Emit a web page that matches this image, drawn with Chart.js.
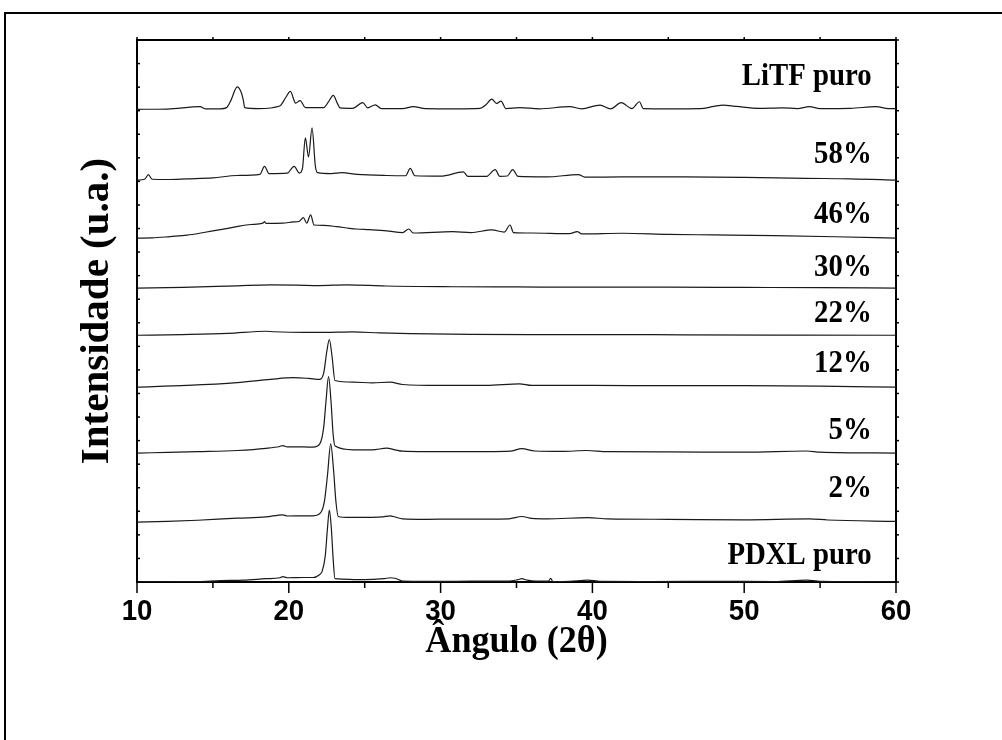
<!DOCTYPE html>
<html>
<head>
<meta charset="utf-8">
<script src="https://cdn.jsdelivr.net/npm/chart.js@4.4.0/dist/chart.umd.min.js"></script>
<style>
  html, body { margin: 0; padding: 0; background: #fff; }
  canvas { display: block; }
</style>
</head>
<body>
<canvas id="xrd" width="1002" height="740"></canvas>
<script>
// sample names, top to bottom of the stack
const samples = ['LiTF puro', '58%', '46%', '30%', '22%', '12%', '5%', '2%', 'PDXL puro'];
// vertical shift of each pattern (u.a.)
const offsets = [2006, 1705, 1459, 1247, 1047, 827, 547, 254, 0];

// [2theta, intensity above its shift]
const litf = [[10,0],[12,1],[14.15,11],[14.5,2],[15.5,2],[15.9,7],[16.2,40],[16.6,95],[16.85,74],[17.0,40],[17.1,7],
  [18,3],[19.4,14],[19.8,50],[20.1,76],[20.45,26],[20.74,37],[21.1,7],[22.3,7],[22.6,30],[22.93,59],[23.2,25],
  [23.37,6],[24.2,4],[24.87,28],[25.2,6],[25.7,19],[26.1,3],[27.5,3],[28.2,11],[29,3],[31,2],[32.6,4],[33.0,20],
  [33.37,43],[33.7,25],[33.98,35],[34.3,3],[35.2,7],[36.5,2],[38.5,11],[39.3,2],[40.5,18],[41.2,2],[41.9,28],
  [42.6,3],[43.1,32],[43.35,3],[45,2],[47.1,3],[48.0,12],[48.6,18],[49.5,12],[51,4],[52.5,6],[53.5,3],[54.3,11],
  [55,3],[57,4],[58.7,11],[59.5,3],[60,3]];
const p58 = [[10,0],[10.5,4],[10.75,24],[11.0,4],[12,3],[13.3,6],[15,10],[16.6,20],[18.1,25],[18.4,59],[18.7,28],
  [19.9,30],[20.35,59],[20.7,30],[20.9,50],[21.09,180],[21.3,99],[21.53,222],[21.75,60],[21.9,32],[22.8,28],
  [23.5,32],[24.5,25],[26.45,20],[27.7,19],[28.0,50],[28.3,19],[30,17],[31.5,35],[31.8,16],[33.0,16],[33.6,45],
  [33.9,16],[34.4,18],[34.75,45],[35.1,16],[37,14],[39.07,24],[39.5,13],[42,14],[46,14],[50,12],[54,8],[57,6],[60,0]];
const p46 = [[10,0],[11,1],[12.2,7],[13.3,13],[14.4,24],[15.5,36],[16.57,49],[17.5,58],[18.3,64],[18.4,70],[18.5,63],
  [19.6,64],[20.3,69],[20.7,72],[20.96,87],[21.18,64],[21.44,99],[21.66,56],[22.3,54],[23.15,49],[24.0,42],
  [24.47,39],[25.3,36],[26.45,31],[27.5,24],[27.9,39],[28.2,22],[30.8,28],[32.0,24],[33.37,35],[34.2,26],
  [34.57,56],[34.8,24],[36.0,22],[38.5,19],[39.0,28],[39.3,18],[42,21],[45,16],[48,14],[52,11],[56,6],[60,0]];
const p30 = [[10,0],[13,3],[16.6,10],[18.8,14],[20.5,13],[22,11],[23.8,14],[26.4,9],[30.8,6],[35,5],[40,4],[45,4],
  [50,3],[55,2],[60,0]];
const p22 = [[10,0],[13,3],[16,8],[18.5,17],[19,15],[21,12],[22.3,12],[24.2,14],[26,10],[28,7],[32,4],[36,3],[40,3],
  [46,2],[52,1],[60,0]];
const p12 = [[10,0],[13.3,7],[16.6,19],[18.8,33],[20.3,40],[21.3,37],[22.05,33],[22.3,60],[22.5,150],[22.67,202],
  [22.85,130],[23.04,28],[24.25,21],[25.5,18],[26.67,21],[27.5,11],[30,7],[33,7],[35.2,14],[36,7],[40,7],[45,6],
  [50,6],[55,4],[60,0]];
const p05 = [[10,0],[12,3],[14,6],[16.6,11],[18.5,20],[19.4,28],[19.6,32],[19.9,26],[21,26],[21.6,25],[22.05,40],
  [22.3,110],[22.45,220],[22.62,325],[22.78,220],[22.92,80],[23.05,30],[24.25,14],[25.5,14],[26.45,21],[27.0,14],
  [27.5,8],[29,6],[31,6],[33,6],[34.6,8],[35.35,19],[36.2,9],[38,7],[39.6,11],[41,6],[45,5],[50,4],[54.1,9],
  [55,4],[60,0]];
const p02 = [[10,0],[12,3],[14,8],[16.6,17],[18.5,22],[19.6,31],[19.9,26],[21,27],[21.6,27],[22.1,40],[22.35,90],
  [22.55,200],[22.76,332],[22.95,220],[23.1,90],[23.26,24],[24,20],[25.5,20],[26.2,22],[26.67,27],[27.0,22],
  [27.5,14],[29,12],[31,13],[33,13],[34.5,14],[35.35,24],[36,16],[37,14],[39.7,19],[41,14],[45,12],[50,10],
  [54.3,14],[55.5,9],[60,3]];
const pdxl = [[10,0],[12,1],[14,2],[15.5,6],[17,8],[18.5,14],[19.4,18],[19.6,23],[19.9,18],[21,19],[21.6,19],
  [22.0,30],[22.2,46],[22.4,110],[22.55,230],[22.67,305],[22.8,230],[22.92,100],[23.04,14],[23.5,12],[24.5,10],
  [25.5,11],[26.3,14],[26.67,18],[27.0,16],[27.5,4],[29,3],[31,3],[33,4],[34.5,4],[35.1,10],[35.35,14],[35.7,8],
  [36.3,4],[37.1,4],[37.25,15],[37.4,2],[38.5,3],[39.7,8],[40.5,3],[44,2],[48,3],[52,2],[54.1,8],[55,3],[58,2],[60,0]];

const patterns = [litf, p58, p46, p30, p22, p12, p05, p02, pdxl];
const xTickLabels = [10, 20, 30, 40, 50, 60];

const datasets = patterns.map((pts, i) => ({
    label: samples[i],
    data: pts.map(p => ({ x: p[0], y: p[1] + offsets[i] })),
    borderColor: '#1a1a1a',
    borderWidth: 1.2,
    pointRadius: 0,
    fill: false,
    cubicInterpolationMode: 'monotone'
}));

// text squeezed sideways, like the exported figure
function squeezedText(ctx, text, x, y, sx, align) {
    ctx.save();
    ctx.translate(x, y);
    ctx.scale(sx, 1);
    ctx.textAlign = align;
    ctx.textBaseline = 'middle';
    ctx.fillText(text, 0, 0);
    ctx.restore();
}

function line(ctx, x1, y1, x2, y2) {
    ctx.beginPath();
    ctx.moveTo(x1, y1);
    ctx.lineTo(x2, y2);
    ctx.stroke();
}

const decorations = {
    id: 'decorations',
    beforeDraw(chart) {
        const ctx = chart.ctx;
        ctx.save();
        ctx.strokeStyle = '#000';
        ctx.lineWidth = 2;
        line(ctx, 5, 13, 5, 740);
        line(ctx, 4, 13, 1002, 13);
        ctx.restore();
    },
    afterDraw(chart, args, opts) {
        const ctx = chart.ctx;
        const xs = chart.scales.x, ys = chart.scales.y;
        const { left, right, top, bottom } = chart.chartArea;
        ctx.save();
        ctx.strokeStyle = '#000';
        ctx.lineWidth = 1.5;
        xs.ticks.forEach(t => {
            const px = xs.getPixelForValue(t.value);
            const len = t.value % 10 === 0 ? 11 : 6;
            line(ctx, px, bottom, px, bottom + len);
            line(ctx, px, top, px, top - 3);
        });
        ys.ticks.forEach(t => {
            const py = ys.getPixelForValue(t.value);
            line(ctx, left, py, left + 3, py);
            line(ctx, right, py, right + 3, py);
        });

        ctx.fillStyle = '#000';
        ctx.font = 'bold 30px "Liberation Sans", Arial, sans-serif';
        xTickLabels.forEach(v => {
            squeezedText(ctx, String(v), xs.getPixelForValue(v), bottom + 30, 0.92, 'center');
        });

        ctx.font = 'bold 38px "Liberation Serif", "Times New Roman", serif';
        squeezedText(ctx, 'Ângulo (2θ)', (left + right) / 2, bottom + 60, 0.95, 'center');

        ctx.save();
        ctx.translate(97, (top + bottom) / 2);
        ctx.rotate(-Math.PI / 2);
        ctx.font = 'bold 41px "Liberation Serif", "Times New Roman", serif';
        squeezedText(ctx, 'Intensidade (u.a.)', 0, 0, 1, 'center');
        ctx.restore();

        ctx.font = 'bold 32px "Liberation Serif", "Times New Roman", serif';
        samples.forEach((name, i) => {
            squeezedText(ctx, name, xs.getPixelForValue(opts.labelX), ys.getPixelForValue(opts.labelY[i]), 0.9, 'right');
        });
        ctx.restore();
    }
};

new Chart(document.getElementById('xrd'), {
    type: 'line',
    data: { datasets: datasets },
    plugins: [decorations],
    options: {
        responsive: false,
        animation: false,
        layout: { padding: { top: 40, right: 106, left: 0, bottom: 0 } },
        plugins: {
            legend: { display: false },
            tooltip: { enabled: false },
            decorations: {
                labelX: 58.4,
                labelY: [2145, 1814, 1558, 1335, 1139, 927, 643, 397, 113]
            }
        },
        scales: {
            x: {
                type: 'linear', position: 'bottom', min: 10, max: 60,
                grid: { display: false },
                border: { display: true, width: 2, color: '#000' },
                ticks: { display: false, stepSize: 5 },
                afterFit: s => { s.height = 158; }
            },
            y: {
                type: 'linear', position: 'left', min: 0, max: 2300,
                grid: { display: false },
                border: { display: true, width: 2, color: '#000' },
                ticks: { display: false, stepSize: 100 },
                afterFit: s => { s.width = 137; }
            },
            x2: {
                type: 'linear', position: 'top', min: 10, max: 60,
                grid: { display: false },
                border: { display: true, width: 2, color: '#000' },
                ticks: { display: false },
                afterFit: s => { s.height = 0; }
            },
            y2: {
                type: 'linear', position: 'right', min: 0, max: 2300,
                grid: { display: false },
                border: { display: true, width: 2, color: '#000' },
                ticks: { display: false },
                afterFit: s => { s.width = 0; }
            }
        }
    }
});
</script>
</body>
</html>
